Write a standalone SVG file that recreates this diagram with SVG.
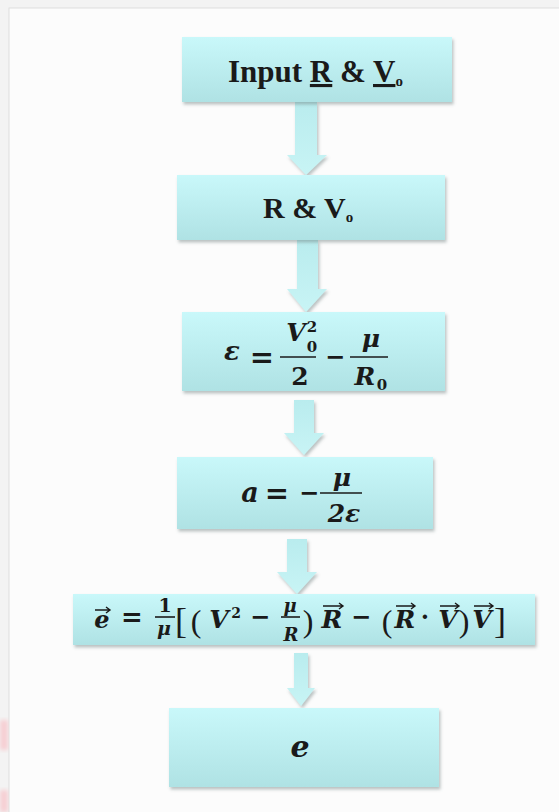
<svg xmlns="http://www.w3.org/2000/svg" width="559" height="812" viewBox="0 0 559 812">
<defs>
<linearGradient id="gBox" x1="0" y1="0" x2="0" y2="1">
<stop offset="0" stop-color="#c9f8fa"/>
<stop offset="1" stop-color="#afe2e4"/>
</linearGradient>
<linearGradient id="gArr" x1="0" y1="0" x2="0" y2="1">
<stop offset="0" stop-color="#b9ecee"/>
<stop offset="1" stop-color="#c8f4f5"/>
</linearGradient>
<filter id="sh" x="-10%" y="-20%" width="120%" height="150%">
<feDropShadow dx="1.5" dy="2.5" stdDeviation="1.5" flood-color="#6b7b7c" flood-opacity="0.45"/>
</filter>
<filter id="blur"><feGaussianBlur stdDeviation="2"/></filter>
</defs>
<style>
.box{fill:url(#gBox);filter:url(#sh);}
.arr{fill:url(#gArr);filter:url(#sh);}
.t{font-family:"Liberation Serif",serif;font-weight:bold;fill:#1a1a1a;}
.m{font-family:"DejaVu Serif",serif;font-weight:bold;font-style:italic;fill:#1a1a1a;text-anchor:middle;}
.n{font-family:"DejaVu Serif",serif;font-weight:bold;fill:#1a1a1a;text-anchor:middle;}
.p{font-family:"Liberation Serif",serif;fill:#1a1a1a;text-anchor:middle;}
.bar{stroke:#1a1a1a;stroke-width:1.6;}
.vec{stroke:#1a1a1a;stroke-width:1.4;fill:none;}
.u{text-decoration:underline;}
</style>
<rect x="0" y="0" width="559" height="812" fill="#f3f3f3"/>
<rect x="9" y="8" width="560" height="820" fill="#fcfcfc" stroke="#dedede" stroke-width="1"/>
<rect x="0" y="720" width="8" height="30" fill="#f6cfd3" filter="url(#blur)"/>
<rect x="0" y="790" width="8" height="22" fill="#f6cfd3" filter="url(#blur)"/>

<g id="connectors">
<path class="arr" d="M295,102 H317 V155 H327 L306,175 L287,155 H295 Z"/>
<path class="arr" d="M297,240 H318 V289 H327 L306,312 L287,289 H297 Z"/>
<path class="arr" d="M294,400 H314 V433 H324 L304,455 L284,433 H294 Z"/>
<path class="arr" d="M287,539 H307 V572 H317 L297,594 L277,572 H287 Z"/>
<path class="arr" d="M294,653 H308 V688 H315 L301,706 L287,688 H294 Z"/>
</g>

<g id="n1">
<rect class="box" x="182" y="37" width="270" height="65"/>
<text class="t" x="228" y="82" font-size="31">Input <tspan class="u">R</tspan> &amp; <tspan class="u">V</tspan><tspan font-size="15" dy="4">o</tspan></text>
</g>

<g id="n2">
<rect class="box" x="177" y="175" width="268" height="65"/>
<text class="t" x="263" y="218" font-size="30">R &amp; V<tspan font-size="15" dy="4">o</tspan></text>
</g>

<g id="n3">
<rect class="box" x="182" y="312" width="263" height="79"/>
<text class="m" x="232" y="360" font-size="26">ε</text>
<text class="n" x="262" y="367" font-size="29">=</text>
<text class="m" x="296" y="341" font-size="25">V</text>
<text class="n" x="312" y="332" font-size="15">2</text>
<text class="n" x="312" y="352" font-size="15">0</text>
<line class="bar" x1="280" y1="357" x2="316" y2="357"/>
<text class="n" x="300" y="385" font-size="25">2</text>
<text class="n" x="335" y="365" font-size="24">−</text>
<text class="m" x="371" y="347" font-size="25">μ</text>
<line class="bar" x1="350" y1="357" x2="388" y2="357"/>
<text class="m" x="365" y="385" font-size="25">R</text>
<text class="n" x="382" y="390" font-size="15">0</text>
</g>

<g id="n4">
<rect class="box" x="177" y="457" width="256" height="72"/>
<text class="m" x="250" y="502" font-size="27">a</text>
<text class="n" x="277" y="503" font-size="29">=</text>
<text class="n" x="309" y="501" font-size="24">−</text>
<line class="bar" x1="320" y1="493" x2="362" y2="493"/>
<text class="m" x="342" y="486" font-size="25">μ</text>
<text class="m" x="344" y="522" font-size="25">2ε</text>
</g>

<g id="n5">
<rect class="box" x="73" y="594" width="462" height="51"/>
<text class="m" x="102" y="628" font-size="24">e</text>
<path class="vec" d="M95,610 H109 M106,607 L110,610 L106,613"/>
<text class="n" x="132" y="626" font-size="26">=</text>
<text class="n" x="165" y="612" font-size="19">1</text>
<line class="bar" x1="155" y1="617" x2="175" y2="617"/>
<text class="m" x="164" y="635" font-size="19">μ</text>
<text class="p" x="181" y="633" font-size="36">[</text>
<text class="p" x="196" y="632" font-size="32">(</text>
<text class="m" x="219" y="628" font-size="25">V</text>
<text class="n" x="236" y="618" font-size="14">2</text>
<text class="n" x="260" y="625" font-size="24">−</text>
<text class="m" x="290" y="612" font-size="18">μ</text>
<line class="bar" x1="281" y1="617" x2="300" y2="617"/>
<text class="m" x="291" y="641" font-size="18">R</text>
<text class="p" x="308" y="632" font-size="32">)</text>
<text class="m" x="332" y="628" font-size="25">R</text>
<path class="vec" d="M323,606 H342 M339,603 L343,606 L339,609"/>
<text class="n" x="361" y="625" font-size="24">−</text>
<text class="p" x="387" y="632" font-size="32">(</text>
<text class="m" x="405" y="628" font-size="25">R</text>
<path class="vec" d="M396,606 H414 M411,603 L415,606 L411,609"/>
<text class="n" x="425" y="625" font-size="24">·</text>
<text class="m" x="448" y="628" font-size="25">V</text>
<path class="vec" d="M440,606 H458 M455,603 L459,606 L455,609"/>
<text class="p" x="464" y="632" font-size="32">)</text>
<text class="m" x="482" y="628" font-size="25">V</text>
<path class="vec" d="M474,606 H492 M489,603 L493,606 L489,609"/>
<text class="p" x="500" y="633" font-size="36">]</text>
</g>

<g id="n6">
<rect class="box" x="169" y="708" width="270" height="79"/>
<text class="m" x="300" y="757" font-size="30">e</text>
</g>
</svg>
